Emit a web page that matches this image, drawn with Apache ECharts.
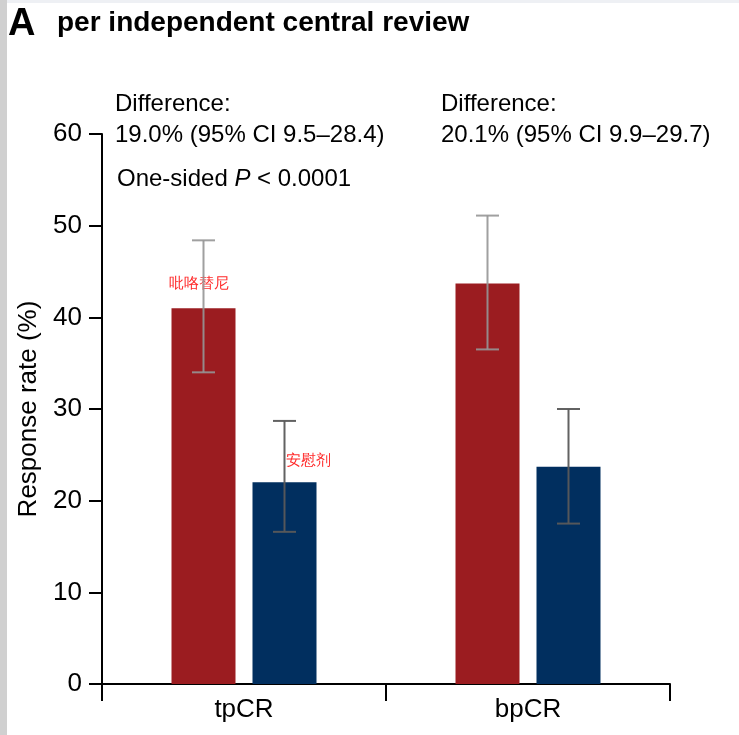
<!DOCTYPE html>
<html>
<head>
<meta charset="utf-8">
<script src="https://cdn.jsdelivr.net/npm/echarts@6/dist/echarts.min.js"></script>
<style>
html,body{margin:0;padding:0;background:#fff;}
#chart{width:739px;height:735px;}
</style>
</head>
<body>
<div id="chart"></div>
<script>
var categories = ['tpCR', 'bpCR'];
var seriesNames = ['吡咯替尼', '安慰剂'];
var pyrotinibRate = [41.0, 43.7];
var pyrotinibLow = [34.0, 36.5];
var pyrotinibHigh = [48.4, 51.1];
var placeboRate = [22.0, 23.7];
var placeboLow = [16.6, 17.5];
var placeboHigh = [28.7, 30.0];
var yTicks = [0, 10, 20, 30, 40, 50, 60];

var FONT = '"Liberation Sans", Arial, Helvetica, sans-serif';
var BAR_W = 64, BAR_GAP = 17;
var RED = '#9b1c20', BLUE = '#012f5f';

function errSeries(name, low, high, dir, color) {
  return {
    type: 'custom',
    name: name + '-err',
    z: 5,
    silent: true,
    data: categories.map(function (c, i) { return [i, low[i], high[i]]; }),
    renderItem: function (params, api) {
      var off = dir * (BAR_W + BAR_GAP) / 2;
      var lo = api.coord([api.value(0), api.value(1)]);
      var hi = api.coord([api.value(0), api.value(2)]);
      var x = lo[0] + off;
      var cap = 11.5;
      var st = { stroke: color, lineWidth: 2 };
      return {
        type: 'group',
        children: [
          { type: 'line', shape: { x1: x, y1: lo[1], x2: x, y2: hi[1] }, style: st },
          { type: 'line', shape: { x1: x - cap, y1: lo[1], x2: x + cap, y2: lo[1] }, style: st },
          { type: 'line', shape: { x1: x - cap, y1: hi[1], x2: x + cap, y2: hi[1] }, style: st }
        ]
      };
    }
  };
}

var chart = echarts.init(document.getElementById('chart'), null, { renderer: 'canvas' });
chart.setOption({
  backgroundColor: '#ffffff',
  animation: false,
  textStyle: { fontFamily: FONT },
  grid: { left: 102, right: 69, top: 134, bottom: 51, containLabel: false },
  xAxis: {
    type: 'category',
    data: categories,
    boundaryGap: true,
    axisLine: { lineStyle: { color: '#000', width: 2 } },
    axisTick: { show: true, length: 17, lineStyle: { color: '#000', width: 2 } },
    axisLabel: { color: '#000', fontSize: 26, margin: 13, fontFamily: FONT }
  },
  yAxis: {
    type: 'value',
    min: yTicks[0],
    max: yTicks[yTicks.length - 1],
    interval: 10,
    name: 'Response rate (%)',
    nameLocation: 'middle',
    nameGap: 56,
    nameTextStyle: { color: '#000', fontSize: 26, fontFamily: FONT },
    axisLine: { show: true, lineStyle: { color: '#000', width: 2 } },
    axisTick: { show: true, length: 13, lineStyle: { color: '#000', width: 2 } },
    axisLabel: { color: '#000', fontSize: 26, margin: 20, fontFamily: FONT },
    splitLine: { show: false }
  },
  series: [
    {
      type: 'bar',
      name: seriesNames[0],
      data: pyrotinibRate.map(function (v, i) {
        return i === 0 ? { value: v, label: { show: true, position: 'top', offset: [-5, -12], formatter: seriesNames[0], color: '#ff2a2a', fontSize: 15 } } : v;
      }),
      barWidth: BAR_W,
      barGap: (BAR_GAP / BAR_W * 100) + '%',
      itemStyle: { color: RED }
    },
    {
      type: 'bar',
      name: seriesNames[1],
      data: placeboRate.map(function (v, i) {
        return i === 0 ? { value: v, label: { show: true, position: 'top', offset: [24, -9], formatter: seriesNames[1], color: '#ff2a2a', fontSize: 15 } } : v;
      }),
      barWidth: BAR_W,
      itemStyle: { color: BLUE }
    },
    errSeries('p', pyrotinibLow, pyrotinibHigh, -1, 'rgba(150,150,150,0.9)'),
    errSeries('c', placeboLow, placeboHigh, 1, 'rgba(90,90,90,0.95)')
  ],
  graphic: [
    { type: 'rect', left: 0, top: 0, shape: { width: 739, height: 3 }, style: { fill: '#eef0f4' }, silent: true },
    { type: 'rect', left: 0, top: 0, shape: { width: 7, height: 735 }, style: { fill: '#d0d0d0' }, silent: true },
    { type: 'text', left: 8, top: 6, style: { text: 'A', font: 'bold 38px ' + FONT, fill: '#000' } },
    { type: 'text', left: 57, top: 9, style: { text: 'per independent central review', font: 'bold 28px ' + FONT, fill: '#000' } },
    { type: 'text', left: 115, top: 92, style: { text: 'Difference:', font: '24px ' + FONT, fill: '#000' } },
    { type: 'text', left: 115, top: 123, style: { text: '19.0% (95% CI 9.5–28.4)', font: '24px ' + FONT, fill: '#000' } },
    { type: 'text', left: 117, top: 167, style: {
        text: '{n|One-sided }{i|P}{n| < 0.0001}',
        rich: {
          n: { font: '24px ' + FONT, fill: '#000' },
          i: { font: 'italic 24px ' + FONT, fill: '#000' }
        }
      } },
    { type: 'text', left: 441, top: 92, style: { text: 'Difference:', font: '24px ' + FONT, fill: '#000' } },
    { type: 'text', left: 441, top: 123, style: { text: '20.1% (95% CI 9.9–29.7)', font: '24px ' + FONT, fill: '#000' } }
  ]
});
</script>
</body>
</html>
